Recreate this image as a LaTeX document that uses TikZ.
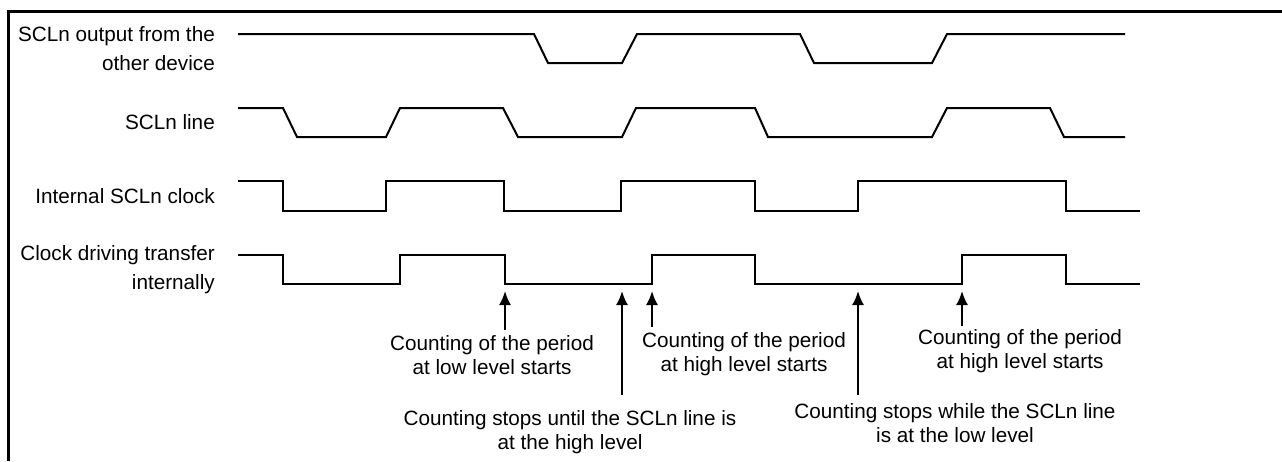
\documentclass[tikz,border=0pt]{standalone}
\usepackage{fontspec}
\setmainfont{Liberation Sans}
\usetikzlibrary{arrows.meta}
\begin{document}
\begin{tikzpicture}[x=1pt,y=-1pt,
  sig/.style={line width=2pt},
  frame/.style={line width=3pt},
  lbl/.style={anchor=east, align=right, inner sep=0pt, font=\fontsize{20.7}{29}\selectfont},
  note/.style={align=center, inner sep=0pt, font=\fontsize{20.7}{24}\selectfont},
  arr/.style={line width=2pt, -{Latex[length=14pt,width=12pt]}}]
\useasboundingbox (0,0) rectangle (1282,461);
\draw[frame] (8.5,461) -- (8.5,11.5) -- (1282,11.5);

% labels
\node[lbl] (l1) at (215,48.5) {SCLn output from the\\other device};
\node[lbl] (l2) at (215,122) {SCLn line};
\node[lbl] (l3) at (215,196) {Internal SCLn clock};
\node[lbl] (l4) at (215,269.5) {Clock driving transfer\\internally};

% waveforms
\draw[sig] (238,34) -- (534,34) -- (548,63) -- (622,63) -- (637,34) -- (800,34) -- (814,63) -- (932,63) -- (947,34) -- (1125,34);
\draw[sig] (238,108) -- (283,108) -- (297,137) -- (386,137) -- (400,108) -- (503,108) -- (518,137) -- (622,137) -- (636,108) -- (755,108) -- (768,137) -- (932,137) -- (947,108) -- (1050,108) -- (1064,137) -- (1125,137);
\draw[sig] (238,181) -| (283,211) -| (386,181) -| (504,211) -| (621,181) -| (755,211) -| (858,181) -| (1066,211) -- (1140,211);
\draw[sig] (238,255) -| (283,284) -| (400,255) -| (505,284) -| (652,255) -| (755,284) -| (962,255) -| (1066,284) -- (1140,284);

% annotations
\node[note] (nA) at (492,355) {Counting of the period\\at low level starts};
\node[note] (nB) at (744,354) {Counting of the period\\at high level starts};
\node[note] (nC) at (570,432.5) {Counting stops until the SCLn line is\\at the high level};
\node[note] (nD) at (955,423.5) {Counting stops while the SCLn line\\is at the low level};
\node[note] (nE) at (1020,351.5) {Counting of the period\\at high level starts};

\coordinate (tA) at (505,291);
\coordinate (tB) at (652,291);
\coordinate (tC) at (622,291);
\coordinate (tD) at (858,291);
\coordinate (tE) at (962,291);
\coordinate (sA) at (505,330);
\coordinate (sB) at (652,327);
\coordinate (sC) at (622,395);
\coordinate (sD) at (858,395);
\coordinate (sE) at (962,326);

\draw[arr] (sA) -- (tA);
\draw[arr] (sB) -- (tB);
\draw[arr] (sC) -- (tC);
\draw[arr] (sD) -- (tD);
\draw[arr] (sE) -- (tE);
\end{tikzpicture}
\end{document}
